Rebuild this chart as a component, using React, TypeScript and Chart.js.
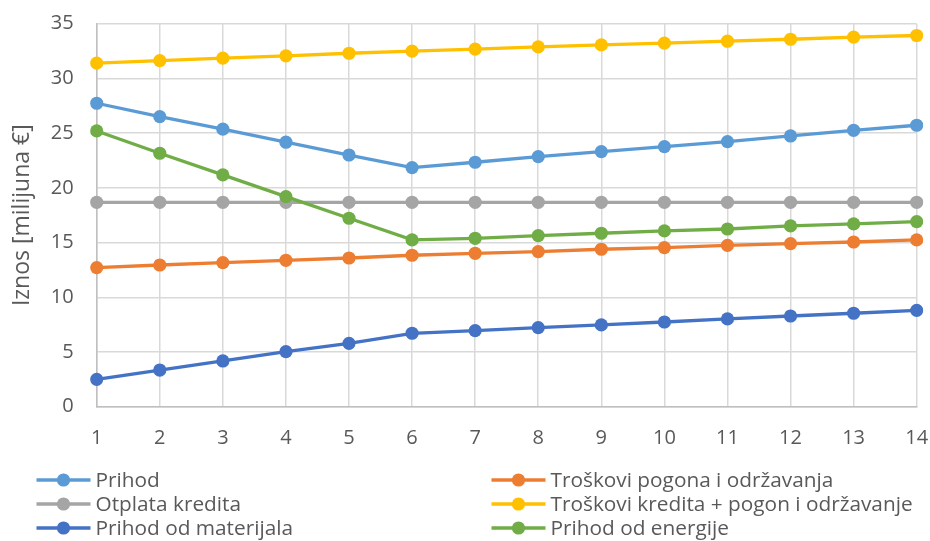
import React, { useEffect, useRef } from "react";
import { Chart, registerables } from "chart.js";

Chart.register(...registerables);

const categories = ["1", "2", "3", "4", "5", "6", "7", "8", "9", "10", "11", "12", "13", "14"];

const prihod = [27.73, 26.51, 25.36, 24.17, 23.0, 21.85, 22.34, 22.85, 23.31, 23.77, 24.22, 24.74, 25.26, 25.72];
const troskoviPogona = [12.71, 12.95, 13.16, 13.38, 13.59, 13.84, 14.02, 14.17, 14.39, 14.53, 14.75, 14.9, 15.05, 15.24];
const otplataKredita = [18.68, 18.68, 18.68, 18.68, 18.68, 18.68, 18.68, 18.68, 18.68, 18.68, 18.68, 18.68, 18.68, 18.68];
const troskoviKredita = [31.4, 31.63, 31.85, 32.06, 32.3, 32.5, 32.68, 32.88, 33.06, 33.22, 33.4, 33.58, 33.78, 33.92];
const prihodMaterijal = [2.5, 3.35, 4.18, 5.03, 5.79, 6.71, 6.95, 7.22, 7.47, 7.74, 8.02, 8.29, 8.54, 8.81];
const prihodEnergija = [25.2, 23.16, 21.18, 19.2, 17.22, 15.24, 15.39, 15.63, 15.85, 16.06, 16.24, 16.52, 16.7, 16.91];

const seriesNames = [
  "Prihod",
  "Troškovi pogona i održavanja",
  "Otplata kredita",
  "Troškovi kredita + pogon i održavanje",
  "Prihod od materijala",
  "Prihod od energije",
];
const seriesData = [prihod, troskoviPogona, otplataKredita, troskoviKredita, prihodMaterijal, prihodEnergija];
const seriesColors = ["#5B9BD5", "#ED7D31", "#A5A5A5", "#FFC000", "#4472C4", "#70AD47"];

const yTitle = "Iznos [milijuna €]";
const FONT = "'Open Sans', 'Noto Sans', sans-serif";
const TEXT_COLOR = "#595959";

const legendPlugin = {
  id: "twoColLegend",
  afterDraw(chart: any) {
    const ctx = chart.ctx;
    ctx.save();
    ctx.font = `20.8px ${FONT}`;
    ctx.textBaseline = "middle";
    ctx.textAlign = "left";
    const colX = [36.5, 491.5];
    const rowY = [480, 504, 528];
    chart.data.datasets.forEach((ds: any, i: number) => {
      const col = i % 2;
      const row = Math.floor(i / 2);
      const x0 = colX[col];
      const y = rowY[row];
      ctx.strokeStyle = ds.borderColor;
      ctx.lineWidth = 3.4;
      ctx.beginPath();
      ctx.moveTo(x0, y);
      ctx.lineTo(x0 + 54, y);
      ctx.stroke();
      ctx.fillStyle = ds.borderColor;
      ctx.beginPath();
      ctx.arc(x0 + 27, y, 6.6, 0, Math.PI * 2);
      ctx.fill();
      ctx.fillStyle = TEXT_COLOR;
      ctx.fillText(ds.label, x0 + 59, y + 1);
    });
    ctx.restore();
  },
};

export default function App() {
  const ref = useRef<HTMLCanvasElement>(null);
  useEffect(() => {
    if (!ref.current) return;
    const chart = new Chart(ref.current, {
      type: "line",
      data: {
        labels: categories,
        datasets: seriesNames.map((name, i) => ({
          label: name,
          data: seriesData[i],
          borderColor: seriesColors[i],
          backgroundColor: seriesColors[i],
          pointBackgroundColor: seriesColors[i],
          pointBorderWidth: 0,
          pointRadius: 6.6,
          borderWidth: 3.3,
          tension: 0,
          order: seriesNames.length - i,
        })),
      },
      options: {
        responsive: false,
        animation: false,
        layout: { padding: { left: 0, right: 13.3, top: 23.7, bottom: 0 } },
        plugins: {
          legend: { display: false },
          tooltip: { enabled: false },
        },
        scales: {
          x: {
            offset: false,
            grid: { color: "#D9D9D9", lineWidth: 1.5, drawTicks: false },
            border: { color: "#BFBFBF", width: 1.5 },
            ticks: { color: TEXT_COLOR, font: { family: FONT, size: 20 }, padding: 19.5, maxRotation: 0 },
            afterFit: (s: any) => {
              s.height = 134.3;
              s.paddingLeft = 0;
              s.paddingRight = 0;
            },
          },
          y: {
            min: 0,
            max: 35,
            grid: { color: "#D9D9D9", lineWidth: 1.5, drawTicks: false },
            border: { color: "#BFBFBF", width: 1.5 },
            ticks: { stepSize: 5, color: TEXT_COLOR, font: { family: FONT, size: 20 }, padding: 23 },
            title: {
              display: true,
              text: yTitle,
              color: TEXT_COLOR,
              font: { family: FONT, size: 23 },
              padding: { top: 9, bottom: 0 },
            },
            afterFit: (s: any) => {
              s.width = 96.7;
              s.paddingTop = 0;
              s.paddingBottom = 0;
            },
          },
        },
      },
      plugins: [legendPlugin],
    });
    return () => chart.destroy();
  }, []);
  return (
    <div style={{ position: "absolute", left: 0, top: 0, width: 930, height: 541, background: "#fff" }}>
      <canvas ref={ref} width={930} height={541} style={{ width: 930, height: 541 }} />
    </div>
  );
}
